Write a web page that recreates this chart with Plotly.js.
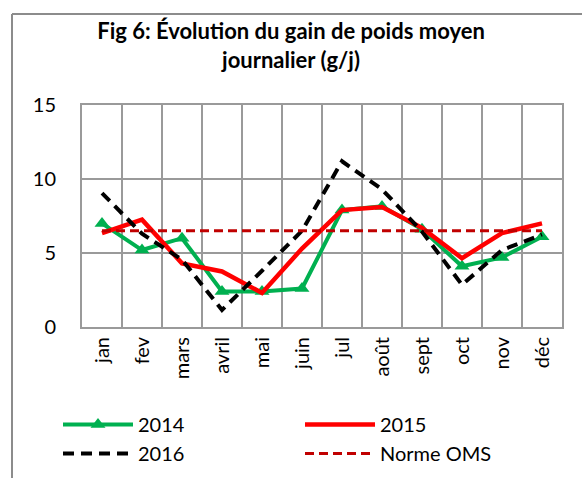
<!DOCTYPE html>
<html>
<head>
<meta charset="utf-8">
<script src="https://cdn.plot.ly/plotly-3.0.1.min.js"></script>
<style>html,body{margin:0;padding:0;background:#fff;}#chart{width:582px;height:478px;}</style>
</head>
<body>
<div id="chart"></div>
<script>
const months = ["jan","fev","mars","avril","mai","juin","jul","août","sept","oct","nov","déc"];
const g2014 = [7.0, 5.2, 6.0, 2.4, 2.4, 2.6, 7.9, 8.15, 6.6, 4.1, 4.7, 6.1];
const g2015 = [6.35, 7.25, 4.3, 3.75, 2.3, 5.3, 7.9, 8.1, 6.7, 4.65, 6.35, 7.0];
const g2016 = [9.05, 6.3, 4.55, 1.15, 3.8, 6.5, 11.2, 9.3, 6.45, 2.85, 5.2, 6.25];
const normeOMS = [6.5, 6.5, 6.5, 6.5, 6.5, 6.5, 6.5, 6.5, 6.5, 6.5, 6.5, 6.5];
const seriesNames = ["2014", "2015", "2016", "Norme OMS"];
const titleText = "Fig 6: Évolution du gain de poids moyen<br>journalier (g/j)";

const FONT = "Lato, 'Open Sans', sans-serif";

const traces = [
  {x: months, y: g2014, name: seriesNames[0], type: "scatter", mode: "lines+markers",
   line: {color: "#00B050", width: 4}, marker: {symbol: "triangle-up", size: 13, color: "#00B050"}},
  {x: months, y: g2015, name: seriesNames[1], type: "scatter", mode: "lines",
   line: {color: "#FF0000", width: 4.5}},
  {x: months, y: g2016, name: seriesNames[2], type: "scatter", mode: "lines",
   line: {color: "#000000", width: 4, dash: "11px,7px"}},
  {x: months, y: normeOMS, name: seriesNames[3], type: "scatter", mode: "lines",
   line: {color: "#C00000", width: 3, dash: "9px,5px"}}
];

const L = 82, R = 20, T = 105, B = 151, W = 582, H = 478;
const pw = W - L - R, ph = H - T - B;
const px = v => (v - L) / pw;
const py = v => (H - B - v) / ph;

const layout = {
  width: W, height: H,
  margin: {l: L, r: R, t: T, b: B, pad: 0},
  paper_bgcolor: "#ffffff", plot_bgcolor: "#ffffff",
  font: {family: FONT, size: 20, color: "#000000"},
  title: {text: titleText, font: {family: FONT, size: 22, color: "#000000", weight: "bold"},
          x: 0.5, xanchor: "center", xref: "container", yref: "container",
          y: 1 - 39 / H, yanchor: "middle"},
  showlegend: true,
  legend: {orientation: "h", xref: "container", yref: "container",
           x: 58 / W, xanchor: "left", y: 1 - 405 / H, yanchor: "top",
           entrywidth: 157, entrywidthmode: "pixels", itemwidth: 70,
           font: {family: FONT, size: 20, color: "#000"}, bgcolor: "rgba(0,0,0,0)"},
  xaxis: {type: "category", range: [-0.5, 11.5], tickson: "boundaries",
          showgrid: true, gridcolor: "#9a9a9a", gridwidth: 1.5,
          showline: true, linecolor: "#9a9a9a", linewidth: 2, mirror: true,
          ticks: "outside", ticklen: 22, tickcolor: "rgba(0,0,0,0)",
          tickangle: -90, tickfont: {family: FONT, size: 20, color: "#000"}, fixedrange: true},
  yaxis: {range: [0, 15], dtick: 5, tick0: 0,
          showgrid: true, gridcolor: "#9a9a9a", gridwidth: 1.5, zeroline: false,
          showline: true, linecolor: "#9a9a9a", linewidth: 2, mirror: true,
          ticks: "outside", ticklen: 20, tickcolor: "rgba(0,0,0,0)",
          tickfont: {family: FONT, size: 20, color: "#000"}, fixedrange: true},
  shapes: [
    {type: "line", xref: "paper", yref: "paper", x0: px(12), x1: px(590), y0: py(14), y1: py(14),
     line: {color: "#8c8c8c", width: 2}},
    {type: "line", xref: "paper", yref: "paper", x0: px(12), x1: px(12), y0: py(14), y1: py(490),
     line: {color: "#8c8c8c", width: 2}}
  ]
};

Plotly.newPlot("chart", traces, layout, {displayModeBar: false, staticPlot: true});
</script>
</body>
</html>
